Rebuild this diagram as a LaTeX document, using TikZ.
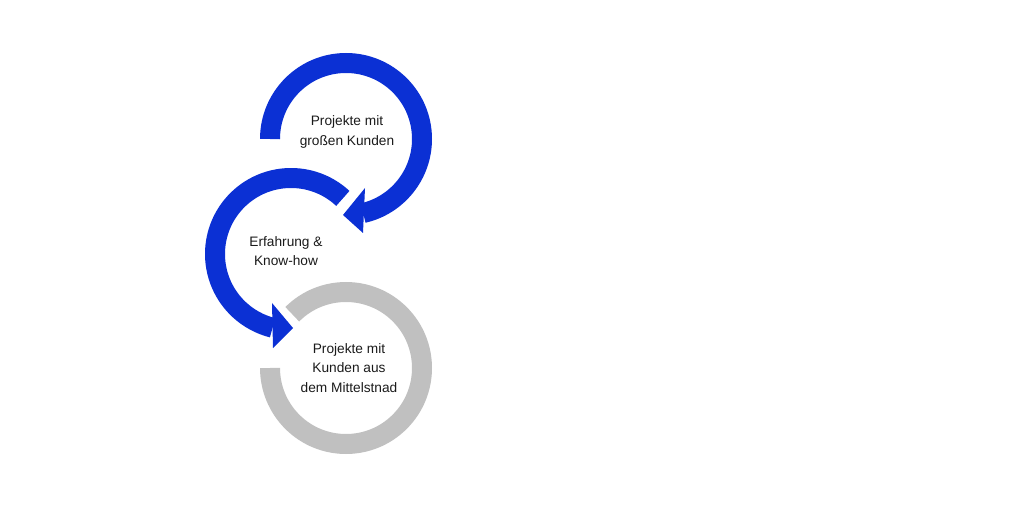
\documentclass[tikz,border=0pt]{standalone}
\usepackage{fontspec}
\setmainfont{Liberation Sans}
\definecolor{CycBlue}{HTML}{0B30D4}
\definecolor{CycGray}{HTML}{C0C0C0}
\definecolor{CycText}{HTML}{1A1A1A}
\begin{document}
\begin{tikzpicture}[x=0.02cm,y=0.02cm,
  ring/.style={line width=0.4cm},
  label/.style={align=center,text=CycText,inner sep=0pt,font=\fontsize{7.8}{11.2}\selectfont}]
\path[use as bounding box] (0,0) rectangle (1032,518);
% upper loop
\draw[ring,CycBlue] (346,379) ++(180:76) arc (180:-77:76);
\fill[CycBlue] (365,330) -- (343,303) -- (363,285) -- cycle;
% middle loop
\draw[ring,CycBlue] (291,264) ++(47:76) arc (47:256:76);
\fill[CycBlue] (272,215) -- (293,190) -- (273,170) -- cycle;
% lower loop
\draw[ring,CycGray] (346,150) ++(135:76) arc (135:-180:76);
\node[label] (big) at (347,386) {Projekte mit\\großen Kunden};
\node[label] (know) at (286,267) {Erfahrung \&\\Know-how};
\node[label] (mid) at (349,150) {Projekte mit\\Kunden aus\\dem Mittelstnad};
\end{tikzpicture}
\end{document}
